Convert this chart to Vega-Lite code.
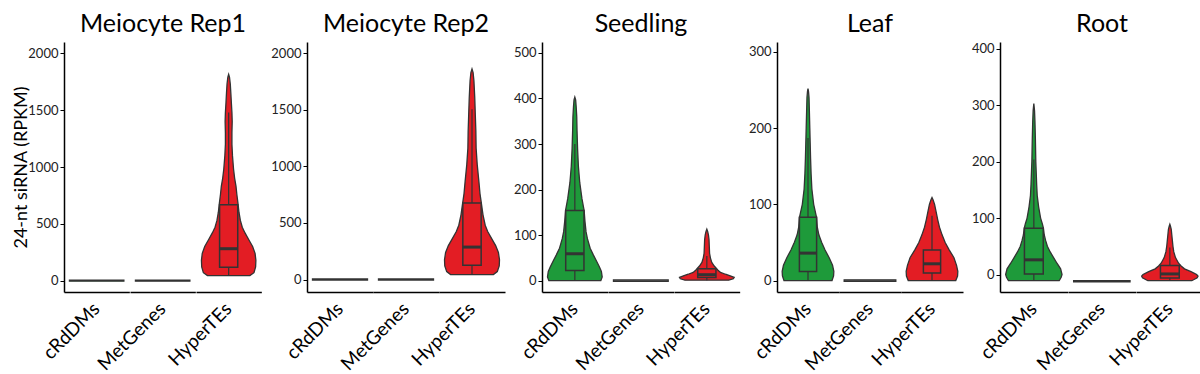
{
  "$schema": "https://vega.github.io/schema/vega-lite/v6.json",
  "background": "white",
  "padding": {"left": 12, "top": 12, "right": 2, "bottom": 2},
  "config": {
    "font": "Lato",
    "view": {"stroke": null},
    "axis": {"domainColor": "#000", "domainWidth": 1.5, "tickColor": "#000", "tickSize": 4, "labelFontSize": 13, "labelColor": "#222", "grid": false, "titleFontWeight": "normal", "titleFontSize": 18, "titleColor": "#000", "labelPadding": 2, "titlePadding": -3},
    "header": {"labelFontSize": 19, "labelAngle": -45, "labelAlign": "right", "labelBaseline": "middle", "labelOrient": "bottom", "labelColor": "#000", "labelPadding": 14, "titleOrient": "top", "titleFontSize": 25, "titleFontWeight": "normal", "titleColor": "#000", "titlePadding": -5}
  },
  "datasets": {
    "p1": [
      {"c": "cRdDMs", "v": -5, "d": 1}, {"c": "cRdDMs", "v": 5, "d": 1},
      {"c": "MetGenes", "v": -5, "d": 1}, {"c": "MetGenes", "v": 5, "d": 1},
      {"c": "HyperTEs", "v": 44, "d": 0.78}, {"c": "HyperTEs", "v": 70, "d": 0.93}, {"c": "HyperTEs", "v": 120, "d": 0.99}, {"c": "HyperTEs", "v": 180, "d": 1}, {"c": "HyperTEs", "v": 240, "d": 0.97}, {"c": "HyperTEs", "v": 300, "d": 0.88}, {"c": "HyperTEs", "v": 360, "d": 0.74}, {"c": "HyperTEs", "v": 420, "d": 0.6}, {"c": "HyperTEs", "v": 470, "d": 0.5}, {"c": "HyperTEs", "v": 530, "d": 0.43}, {"c": "HyperTEs", "v": 600, "d": 0.38}, {"c": "HyperTEs", "v": 684, "d": 0.34}, {"c": "HyperTEs", "v": 760, "d": 0.3}, {"c": "HyperTEs", "v": 830, "d": 0.27}, {"c": "HyperTEs", "v": 900, "d": 0.22}, {"c": "HyperTEs", "v": 980, "d": 0.18}, {"c": "HyperTEs", "v": 1100, "d": 0.14}, {"c": "HyperTEs", "v": 1200, "d": 0.12}, {"c": "HyperTEs", "v": 1300, "d": 0.12}, {"c": "HyperTEs", "v": 1400, "d": 0.13}, {"c": "HyperTEs", "v": 1480, "d": 0.12}, {"c": "HyperTEs", "v": 1560, "d": 0.1}, {"c": "HyperTEs", "v": 1650, "d": 0.08}, {"c": "HyperTEs", "v": 1730, "d": 0.06}, {"c": "HyperTEs", "v": 1790, "d": 0.03}, {"c": "HyperTEs", "v": 1815, "d": 0},
      {"c": "HyperTEs", "q1": 118, "q3": 667, "med": 281, "lo": 44, "hi": 1480}
    ],
    "p2": [
      {"c": "cRdDMs", "v": -5, "d": 1}, {"c": "cRdDMs", "v": 5, "d": 1},
      {"c": "MetGenes", "v": -5, "d": 1}, {"c": "MetGenes", "v": 5, "d": 1},
      {"c": "HyperTEs", "v": 44, "d": 0.78}, {"c": "HyperTEs", "v": 70, "d": 0.92}, {"c": "HyperTEs", "v": 120, "d": 0.99}, {"c": "HyperTEs", "v": 175, "d": 1}, {"c": "HyperTEs", "v": 240, "d": 0.96}, {"c": "HyperTEs", "v": 300, "d": 0.86}, {"c": "HyperTEs", "v": 360, "d": 0.72}, {"c": "HyperTEs", "v": 424, "d": 0.57}, {"c": "HyperTEs", "v": 480, "d": 0.48}, {"c": "HyperTEs", "v": 572, "d": 0.4}, {"c": "HyperTEs", "v": 676, "d": 0.34}, {"c": "HyperTEs", "v": 760, "d": 0.29}, {"c": "HyperTEs", "v": 868, "d": 0.25}, {"c": "HyperTEs", "v": 1016, "d": 0.19}, {"c": "HyperTEs", "v": 1160, "d": 0.15}, {"c": "HyperTEs", "v": 1313, "d": 0.14}, {"c": "HyperTEs", "v": 1460, "d": 0.12}, {"c": "HyperTEs", "v": 1609, "d": 0.1}, {"c": "HyperTEs", "v": 1757, "d": 0.07}, {"c": "HyperTEs", "v": 1830, "d": 0.04}, {"c": "HyperTEs", "v": 1861, "d": 0},
      {"c": "HyperTEs", "q1": 127, "q3": 676, "med": 287, "lo": 44, "hi": 1505}
    ],
    "p3": [
      {"c": "cRdDMs", "v": 0, "d": 0.95}, {"c": "cRdDMs", "v": 8, "d": 1}, {"c": "cRdDMs", "v": 20, "d": 0.97}, {"c": "cRdDMs", "v": 30, "d": 0.9}, {"c": "cRdDMs", "v": 42, "d": 0.8}, {"c": "cRdDMs", "v": 56, "d": 0.68}, {"c": "cRdDMs", "v": 71, "d": 0.56}, {"c": "cRdDMs", "v": 92, "d": 0.46}, {"c": "cRdDMs", "v": 107, "d": 0.41}, {"c": "cRdDMs", "v": 130, "d": 0.37}, {"c": "cRdDMs", "v": 154, "d": 0.34}, {"c": "cRdDMs", "v": 180, "d": 0.26}, {"c": "cRdDMs", "v": 215, "d": 0.18}, {"c": "cRdDMs", "v": 251, "d": 0.13}, {"c": "cRdDMs", "v": 290, "d": 0.1}, {"c": "cRdDMs", "v": 330, "d": 0.08}, {"c": "cRdDMs", "v": 360, "d": 0.07}, {"c": "cRdDMs", "v": 381, "d": 0.05}, {"c": "cRdDMs", "v": 397, "d": 0.03}, {"c": "cRdDMs", "v": 403, "d": 0},
      {"c": "MetGenes", "v": -1.5, "d": 1}, {"c": "MetGenes", "v": 1.5, "d": 1},
      {"c": "HyperTEs", "v": 1, "d": 0.8}, {"c": "HyperTEs", "v": 4, "d": 0.97}, {"c": "HyperTEs", "v": 7, "d": 1}, {"c": "HyperTEs", "v": 10, "d": 0.88}, {"c": "HyperTEs", "v": 14, "d": 0.68}, {"c": "HyperTEs", "v": 18, "d": 0.5}, {"c": "HyperTEs", "v": 22, "d": 0.42}, {"c": "HyperTEs", "v": 26, "d": 0.36}, {"c": "HyperTEs", "v": 32, "d": 0.27}, {"c": "HyperTEs", "v": 40, "d": 0.18}, {"c": "HyperTEs", "v": 50, "d": 0.13}, {"c": "HyperTEs", "v": 60, "d": 0.1}, {"c": "HyperTEs", "v": 75, "d": 0.09}, {"c": "HyperTEs", "v": 90, "d": 0.08}, {"c": "HyperTEs", "v": 100, "d": 0.06}, {"c": "HyperTEs", "v": 108, "d": 0.03}, {"c": "HyperTEs", "v": 113, "d": 0},
      {"c": "cRdDMs", "q1": 22, "q3": 154, "med": 59, "lo": 0, "hi": 300},
      {"c": "HyperTEs", "q1": 7, "q3": 26, "med": 13, "lo": 1, "hi": 54}
    ],
    "p4": [
      {"c": "cRdDMs", "v": 0, "d": 0.93}, {"c": "cRdDMs", "v": 6, "d": 0.99}, {"c": "cRdDMs", "v": 12, "d": 1}, {"c": "cRdDMs", "v": 20, "d": 0.95}, {"c": "cRdDMs", "v": 30, "d": 0.82}, {"c": "cRdDMs", "v": 40, "d": 0.66}, {"c": "cRdDMs", "v": 50, "d": 0.53}, {"c": "cRdDMs", "v": 60, "d": 0.42}, {"c": "cRdDMs", "v": 70, "d": 0.36}, {"c": "cRdDMs", "v": 83, "d": 0.33}, {"c": "cRdDMs", "v": 100, "d": 0.22}, {"c": "cRdDMs", "v": 120, "d": 0.15}, {"c": "cRdDMs", "v": 140, "d": 0.12}, {"c": "cRdDMs", "v": 160, "d": 0.1}, {"c": "cRdDMs", "v": 180, "d": 0.085}, {"c": "cRdDMs", "v": 200, "d": 0.07}, {"c": "cRdDMs", "v": 220, "d": 0.055}, {"c": "cRdDMs", "v": 240, "d": 0.04}, {"c": "cRdDMs", "v": 248, "d": 0.02}, {"c": "cRdDMs", "v": 252, "d": 0},
      {"c": "MetGenes", "v": -1, "d": 1}, {"c": "MetGenes", "v": 1, "d": 1},
      {"c": "HyperTEs", "v": 0, "d": 0.92}, {"c": "HyperTEs", "v": 6, "d": 0.99}, {"c": "HyperTEs", "v": 12, "d": 1}, {"c": "HyperTEs", "v": 20, "d": 0.95}, {"c": "HyperTEs", "v": 30, "d": 0.85}, {"c": "HyperTEs", "v": 40, "d": 0.67}, {"c": "HyperTEs", "v": 50, "d": 0.51}, {"c": "HyperTEs", "v": 60, "d": 0.39}, {"c": "HyperTEs", "v": 70, "d": 0.29}, {"c": "HyperTEs", "v": 80, "d": 0.22}, {"c": "HyperTEs", "v": 90, "d": 0.16}, {"c": "HyperTEs", "v": 100, "d": 0.1}, {"c": "HyperTEs", "v": 106, "d": 0.04}, {"c": "HyperTEs", "v": 109, "d": 0},
      {"c": "cRdDMs", "q1": 12, "q3": 83, "med": 36, "lo": 0, "hi": 187},
      {"c": "HyperTEs", "q1": 10, "q3": 40, "med": 22, "lo": 0, "hi": 85}
    ],
    "p5": [
      {"c": "cRdDMs", "v": -11, "d": 0.9}, {"c": "cRdDMs", "v": -5, "d": 0.97}, {"c": "cRdDMs", "v": 0, "d": 1}, {"c": "cRdDMs", "v": 10, "d": 0.95}, {"c": "cRdDMs", "v": 20, "d": 0.82}, {"c": "cRdDMs", "v": 30, "d": 0.7}, {"c": "cRdDMs", "v": 40, "d": 0.58}, {"c": "cRdDMs", "v": 50, "d": 0.48}, {"c": "cRdDMs", "v": 60, "d": 0.42}, {"c": "cRdDMs", "v": 70, "d": 0.37}, {"c": "cRdDMs", "v": 82, "d": 0.34}, {"c": "cRdDMs", "v": 90, "d": 0.3}, {"c": "cRdDMs", "v": 100, "d": 0.24}, {"c": "cRdDMs", "v": 120, "d": 0.17}, {"c": "cRdDMs", "v": 140, "d": 0.12}, {"c": "cRdDMs", "v": 160, "d": 0.1}, {"c": "cRdDMs", "v": 200, "d": 0.07}, {"c": "cRdDMs", "v": 240, "d": 0.055}, {"c": "cRdDMs", "v": 270, "d": 0.04}, {"c": "cRdDMs", "v": 290, "d": 0.025}, {"c": "cRdDMs", "v": 303, "d": 0},
      {"c": "MetGenes", "v": -13, "d": 1}, {"c": "MetGenes", "v": -11, "d": 1},
      {"c": "HyperTEs", "v": -11, "d": 0.78}, {"c": "HyperTEs", "v": -6, "d": 0.97}, {"c": "HyperTEs", "v": -3, "d": 1}, {"c": "HyperTEs", "v": 0, "d": 0.95}, {"c": "HyperTEs", "v": 5, "d": 0.75}, {"c": "HyperTEs", "v": 10, "d": 0.52}, {"c": "HyperTEs", "v": 15, "d": 0.4}, {"c": "HyperTEs", "v": 20, "d": 0.31}, {"c": "HyperTEs", "v": 30, "d": 0.2}, {"c": "HyperTEs", "v": 40, "d": 0.14}, {"c": "HyperTEs", "v": 50, "d": 0.11}, {"c": "HyperTEs", "v": 60, "d": 0.09}, {"c": "HyperTEs", "v": 70, "d": 0.07}, {"c": "HyperTEs", "v": 80, "d": 0.05}, {"c": "HyperTEs", "v": 86, "d": 0.02}, {"c": "HyperTEs", "v": 89, "d": 0},
      {"c": "cRdDMs", "q1": 1, "q3": 82, "med": 26, "lo": -11, "hi": 204},
      {"c": "HyperTEs", "q1": -6, "q3": 16, "med": 1, "lo": -11, "hi": 48}
    ]
  },
  "spacing": 8,
  "hconcat": [
    {
      "data": {"name": "p1"},
      "facet": {"column": {"field": "c", "type": "nominal", "sort": ["cRdDMs", "MetGenes", "HyperTEs"], "title": "Meiocyte Rep1"}},
      "spacing": 0,
      "spec": {
        "width": 65.33, "height": 250,
        "layer": [
          {"transform": [{"filter": "isValid(datum.d)"}],
           "mark": {"type": "area", "orient": "horizontal", "stroke": "#333", "strokeWidth": 1.3},
           "encoding": {
             "y": {"field": "v", "type": "quantitative", "scale": {"domain": [-100, 2100], "nice": false, "zero": false}, "axis": {"values": [0, 500, 1000, 1500, 2000], "format": "d"}, "title": "24-nt siRNA (RPKM)"},
             "x": {"field": "d", "type": "quantitative", "stack": "center", "impute": null, "scale": {"domain": [-0.0926, 1.0926]}, "axis": {"labels": false, "ticks": false}, "title": null},
             "color": {"field": "c", "type": "nominal", "scale": {"domain": ["cRdDMs", "MetGenes", "HyperTEs"], "range": ["#1e9a3a", "#7f7f7f", "#e31d24"]}, "legend": null}
           }},
          {"transform": [{"filter": "isValid(datum.q1)"}],
           "mark": {"type": "rule", "color": "#333", "strokeWidth": 1.2},
           "encoding": {"x": {"datum": 0.5, "type": "quantitative"}, "y": {"field": "lo", "type": "quantitative", "title": "24-nt siRNA (RPKM)"}, "y2": {"field": "hi"}}},
          {"transform": [{"filter": "isValid(datum.q1)"}],
           "mark": {"type": "rect", "stroke": "#333", "strokeWidth": 1.5},
           "encoding": {"x": {"datum": 0.3333, "type": "quantitative"}, "x2": {"datum": 0.6667}, "y": {"field": "q1", "type": "quantitative", "title": "24-nt siRNA (RPKM)"}, "y2": {"field": "q3"},
             "color": {"field": "c", "type": "nominal", "legend": null}}},
          {"transform": [{"filter": "isValid(datum.q1)"}],
           "mark": {"type": "rule", "color": "#333", "strokeWidth": 3},
           "encoding": {"x": {"datum": 0.3333, "type": "quantitative"}, "x2": {"datum": 0.6667}, "y": {"field": "med", "type": "quantitative", "title": "24-nt siRNA (RPKM)"}}}
        ]
      }
    },
    {
      "data": {"name": "p2"},
      "facet": {"column": {"field": "c", "type": "nominal", "sort": ["cRdDMs", "MetGenes", "HyperTEs"], "title": "Meiocyte Rep2"}},
      "spacing": 0,
      "spec": {
        "width": 66, "height": 250,
        "layer": [
          {"transform": [{"filter": "isValid(datum.d)"}],
           "mark": {"type": "area", "orient": "horizontal", "stroke": "#333", "strokeWidth": 1.3},
           "encoding": {
             "y": {"field": "v", "type": "quantitative", "scale": {"domain": [-110, 2100], "nice": false, "zero": false}, "axis": {"values": [0, 500, 1000, 1500, 2000], "format": "d"}, "title": null},
             "x": {"field": "d", "type": "quantitative", "stack": "center", "impute": null, "scale": {"domain": [-0.0926, 1.0926]}, "axis": {"labels": false, "ticks": false}, "title": null},
             "color": {"field": "c", "type": "nominal", "scale": {"domain": ["cRdDMs", "MetGenes", "HyperTEs"], "range": ["#1e9a3a", "#7f7f7f", "#e31d24"]}, "legend": null}
           }},
          {"transform": [{"filter": "isValid(datum.q1)"}],
           "mark": {"type": "rule", "color": "#333", "strokeWidth": 1.2},
           "encoding": {"x": {"datum": 0.5, "type": "quantitative"}, "y": {"field": "lo", "type": "quantitative", "title": null}, "y2": {"field": "hi"}}},
          {"transform": [{"filter": "isValid(datum.q1)"}],
           "mark": {"type": "rect", "stroke": "#333", "strokeWidth": 1.5},
           "encoding": {"x": {"datum": 0.3333, "type": "quantitative"}, "x2": {"datum": 0.6667}, "y": {"field": "q1", "type": "quantitative", "title": null}, "y2": {"field": "q3"},
             "color": {"field": "c", "type": "nominal", "legend": null}}},
          {"transform": [{"filter": "isValid(datum.q1)"}],
           "mark": {"type": "rule", "color": "#333", "strokeWidth": 3},
           "encoding": {"x": {"datum": 0.3333, "type": "quantitative"}, "x2": {"datum": 0.6667}, "y": {"field": "med", "type": "quantitative", "title": null}}}
        ]
      }
    },
    {
      "data": {"name": "p3"},
      "facet": {"column": {"field": "c", "type": "nominal", "sort": ["cRdDMs", "MetGenes", "HyperTEs"], "title": "Seedling"}},
      "spacing": 0,
      "spec": {
        "width": 65.67, "height": 250,
        "layer": [
          {"transform": [{"filter": "isValid(datum.d)"}],
           "mark": {"type": "area", "orient": "horizontal", "stroke": "#333", "strokeWidth": 1.3},
           "encoding": {
             "y": {"field": "v", "type": "quantitative", "scale": {"domain": [-25, 524], "nice": false, "zero": false}, "axis": {"values": [0, 100, 200, 300, 400, 500]}, "title": null},
             "x": {"field": "d", "type": "quantitative", "stack": "center", "impute": null, "scale": {"domain": [-0.0926, 1.0926]}, "axis": {"labels": false, "ticks": false}, "title": null},
             "color": {"field": "c", "type": "nominal", "scale": {"domain": ["cRdDMs", "MetGenes", "HyperTEs"], "range": ["#1e9a3a", "#7f7f7f", "#e31d24"]}, "legend": null}
           }},
          {"transform": [{"filter": "isValid(datum.q1)"}],
           "mark": {"type": "rule", "color": "#333", "strokeWidth": 1.2},
           "encoding": {"x": {"datum": 0.5, "type": "quantitative"}, "y": {"field": "lo", "type": "quantitative", "title": null}, "y2": {"field": "hi"}}},
          {"transform": [{"filter": "isValid(datum.q1)"}],
           "mark": {"type": "rect", "stroke": "#333", "strokeWidth": 1.5},
           "encoding": {"x": {"datum": 0.3333, "type": "quantitative"}, "x2": {"datum": 0.6667}, "y": {"field": "q1", "type": "quantitative", "title": null}, "y2": {"field": "q3"},
             "color": {"field": "c", "type": "nominal", "legend": null}}},
          {"transform": [{"filter": "isValid(datum.q1)"}],
           "mark": {"type": "rule", "color": "#333", "strokeWidth": 3},
           "encoding": {"x": {"datum": 0.3333, "type": "quantitative"}, "x2": {"datum": 0.6667}, "y": {"field": "med", "type": "quantitative", "title": null}}}
        ]
      }
    },
    {
      "data": {"name": "p4"},
      "facet": {"column": {"field": "c", "type": "nominal", "sort": ["cRdDMs", "MetGenes", "HyperTEs"], "title": "Leaf"}},
      "spacing": 0,
      "spec": {
        "width": 62, "height": 250,
        "layer": [
          {"transform": [{"filter": "isValid(datum.d)"}],
           "mark": {"type": "area", "orient": "horizontal", "stroke": "#333", "strokeWidth": 1.3},
           "encoding": {
             "y": {"field": "v", "type": "quantitative", "scale": {"domain": [-15, 313], "nice": false, "zero": false}, "axis": {"values": [0, 100, 200, 300]}, "title": null},
             "x": {"field": "d", "type": "quantitative", "stack": "center", "impute": null, "scale": {"domain": [-0.0926, 1.0926]}, "axis": {"labels": false, "ticks": false}, "title": null},
             "color": {"field": "c", "type": "nominal", "scale": {"domain": ["cRdDMs", "MetGenes", "HyperTEs"], "range": ["#1e9a3a", "#7f7f7f", "#e31d24"]}, "legend": null}
           }},
          {"transform": [{"filter": "isValid(datum.q1)"}],
           "mark": {"type": "rule", "color": "#333", "strokeWidth": 1.2},
           "encoding": {"x": {"datum": 0.5, "type": "quantitative"}, "y": {"field": "lo", "type": "quantitative", "title": null}, "y2": {"field": "hi"}}},
          {"transform": [{"filter": "isValid(datum.q1)"}],
           "mark": {"type": "rect", "stroke": "#333", "strokeWidth": 1.5},
           "encoding": {"x": {"datum": 0.3333, "type": "quantitative"}, "x2": {"datum": 0.6667}, "y": {"field": "q1", "type": "quantitative", "title": null}, "y2": {"field": "q3"},
             "color": {"field": "c", "type": "nominal", "legend": null}}},
          {"transform": [{"filter": "isValid(datum.q1)"}],
           "mark": {"type": "rule", "color": "#333", "strokeWidth": 3},
           "encoding": {"x": {"datum": 0.3333, "type": "quantitative"}, "x2": {"datum": 0.6667}, "y": {"field": "med", "type": "quantitative", "title": null}}}
        ]
      }
    },
    {
      "data": {"name": "p5"},
      "facet": {"column": {"field": "c", "type": "nominal", "sort": ["cRdDMs", "MetGenes", "HyperTEs"], "title": "Root"}},
      "spacing": 0,
      "spec": {
        "width": 67.67, "height": 250,
        "layer": [
          {"transform": [{"filter": "isValid(datum.d)"}],
           "mark": {"type": "area", "orient": "horizontal", "stroke": "#333", "strokeWidth": 1.3},
           "encoding": {
             "y": {"field": "v", "type": "quantitative", "scale": {"domain": [-31, 412], "nice": false, "zero": false}, "axis": {"values": [0, 100, 200, 300, 400]}, "title": null},
             "x": {"field": "d", "type": "quantitative", "stack": "center", "impute": null, "scale": {"domain": [-0.0926, 1.0926]}, "axis": {"labels": false, "ticks": false}, "title": null},
             "color": {"field": "c", "type": "nominal", "scale": {"domain": ["cRdDMs", "MetGenes", "HyperTEs"], "range": ["#1e9a3a", "#7f7f7f", "#e31d24"]}, "legend": null}
           }},
          {"transform": [{"filter": "isValid(datum.q1)"}],
           "mark": {"type": "rule", "color": "#333", "strokeWidth": 1.2},
           "encoding": {"x": {"datum": 0.5, "type": "quantitative"}, "y": {"field": "lo", "type": "quantitative", "title": null}, "y2": {"field": "hi"}}},
          {"transform": [{"filter": "isValid(datum.q1)"}],
           "mark": {"type": "rect", "stroke": "#333", "strokeWidth": 1.5},
           "encoding": {"x": {"datum": 0.3333, "type": "quantitative"}, "x2": {"datum": 0.6667}, "y": {"field": "q1", "type": "quantitative", "title": null}, "y2": {"field": "q3"},
             "color": {"field": "c", "type": "nominal", "legend": null}}},
          {"transform": [{"filter": "isValid(datum.q1)"}],
           "mark": {"type": "rule", "color": "#333", "strokeWidth": 3},
           "encoding": {"x": {"datum": 0.3333, "type": "quantitative"}, "x2": {"datum": 0.6667}, "y": {"field": "med", "type": "quantitative", "title": null}}}
        ]
      }
    }
  ]
}
